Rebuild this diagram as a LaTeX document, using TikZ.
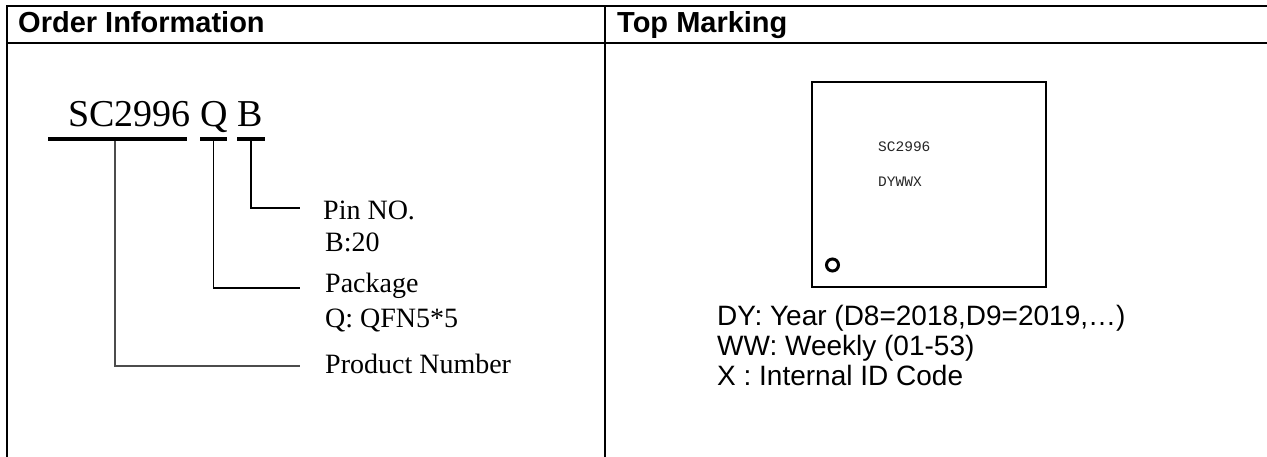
\documentclass[tikz,border=0pt]{standalone}
\usepackage{fontspec}
\setmainfont{Liberation Serif}
\setsansfont{Liberation Sans}
\setmonofont{Liberation Mono}
\usetikzlibrary{positioning}

\begin{document}
\begin{tikzpicture}[x=1pt, y=-1pt,
        rule/.style={line width=2pt},
        bar/.style={fill=black, inner sep=0pt, minimum height=4pt},
        lead/.style={line width=1.4pt},
        head/.style={anchor=base west, inner sep=0pt, font=\sffamily\bfseries\fontsize{29}{34}\selectfont},
        desc/.style={anchor=base west, inner sep=0pt, font=\fontsize{28}{32}\selectfont},
        note/.style={anchor=base west, inner sep=0pt, font=\sffamily\fontsize{28}{32}\selectfont},
        chiptxt/.style={anchor=base west, inner sep=0pt, text=black!85, font=\ttfamily\fontsize{14.5}{17}\selectfont}]
            \useasboundingbox (0,0) rectangle (1267,457);
            % table frame
            \draw[rule] (1267,6) -- (7,6) -- (7,457);
            \draw[rule] (7,43) -- (1267,43);
            \draw[line width=1.5pt] (605,6) -- (605,457);
            \node[head] (ordHead) at (18,32.5) {Order Information};
            \node[head] (topHead) at (617,32.5) {Top Marking};
            % order code
            \node[anchor=base west, inner sep=0pt, font=\fontsize{38}{44}\selectfont] (code) at (68,127) {SC2996 Q B};
            \node[bar, minimum width=139pt] (barSC) at (117.5,139) {};
            \node[bar, minimum width=27pt] (barQ) at (213.5,139) {};
            \node[bar, minimum width=28pt] (barB) at (251,139) {};
            \coordinate (pinEnd) at (300,208);
            \coordinate (pkgEnd) at (300,288);
            \coordinate (prodEnd) at (300,366);
            \draw[lead] (barB.south) |- (pinEnd);
            \draw[lead, line width=1.8pt] (barQ.south) |- (pkgEnd);
            \draw[lead, line width=1.2pt, black!70] ([xshift=-2.5pt]barSC.south) |- (prodEnd);
            \node[desc] (pin) at (323,220) {Pin NO.};
            \node[desc] (pinB) at (325,252) {B:20};
            \node[desc] (pkg) at (325,292) {Package};
            \node[desc] (pkgQ) at (325,327) {Q: QFN5*5};
            \node[desc] (prod) at (325,373) {Product Number};
            % top marking
            \node[draw, line width=1.5pt, inner sep=0pt, minimum width=234pt, minimum height=205pt] (chip) at (929,184.5) {};
            \node[chiptxt] (chipName) at (878,152) {SC2996};
            \node[chiptxt] (chipCode) at (878,187) {DYWWX};
            \draw[line width=3pt] (832.5,265) circle (6pt);
            \node[note] (dy) at (717,325) {DY: Year (D8=2018,D9=2019,…)};
            \node[note] (ww) at (717,355) {WW: Weekly (01-53)};
            \node[note] (xid) at (717,385) {X : Internal ID Code};
\end{tikzpicture}
\end{document}
